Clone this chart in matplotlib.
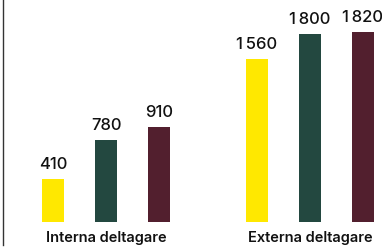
import numpy as np
import matplotlib
matplotlib.use("Agg")
import matplotlib.pyplot as plt
from matplotlib.lines import Line2D

plt.rcParams["font.family"] = ["Inter", "DejaVu Sans"]

groups = ["Interna deltagare", "Externa deltagare"]
series_a = [410, 1560]
series_b = [780, 1800]
series_c = [910, 1820]
colors = ["#FFE800", "#234840", "#521F2E"]


def fmt(v):
    s = f"{v:,}"
    return s.replace(",", "\u2009")


fig = plt.figure(figsize=(3.82, 2.48), dpi=100)
ax = fig.add_axes([0, 26.3 / 248, 1, 221.7 / 248])

x = np.arange(len(groups))
offset = 53 / 204
width = 22 / 204

for i, vals in enumerate([series_a, series_b, series_c]):
    pos = x + (i - 1) * offset
    bars = ax.bar(pos, vals, width=width, color=colors[i])
    for b, v in zip(bars, vals):
        ax.annotate(fmt(v), (b.get_x() + b.get_width() / 2, v),
                    xytext=(0, 5), textcoords="offset points",
                    ha="center", va="bottom", fontsize=12,
                    fontweight="medium", color="#111111")

ax.set_xlim(-106 / 204, 276 / 204)
ax.set_ylim(0, 2126)
ax.set_xticks(x)
ax.set_xticklabels(groups, fontsize=10.5, fontweight="semibold", color="#111111")
ax.tick_params(axis="x", length=0, pad=7)
ax.set_yticks([])
for s in ax.spines.values():
    s.set_visible(False)

fig.add_artist(Line2D([3.5 / 382, 3.5 / 382], [3 / 248, 1], transform=fig.transFigure,
                      color="#333333", linewidth=1))

fig.savefig("out.png", dpi=100)
